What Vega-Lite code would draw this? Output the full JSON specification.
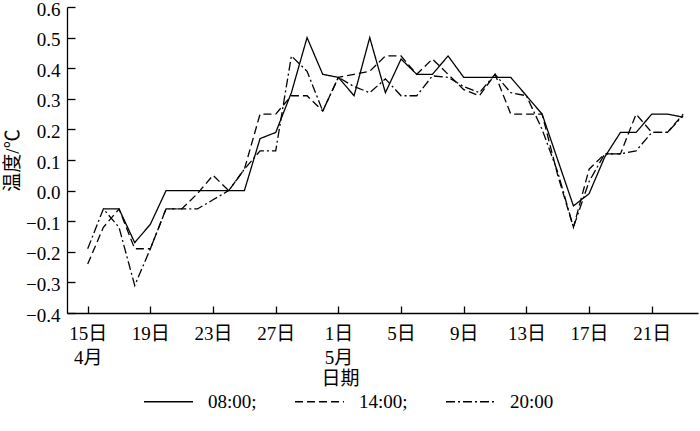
{
  "$schema": "https://vega.github.io/schema/vega-lite/v6.json",
  "width": 631,
  "height": 306,
  "autosize": {"type": "none"},
  "padding": {"left": 67, "top": 7, "right": 2, "bottom": 118},
  "background": "white",
  "config": {
    "view": {"stroke": null},
    "axis": {
      "domainColor": "black", "tickColor": "black", "labelColor": "black", "titleColor": "black",
      "grid": false, "domainWidth": 1.3, "tickWidth": 1.3,
      "labelFont": "Liberation Serif, Noto Sans CJK SC", "titleFont": "Liberation Serif, Noto Sans CJK SC",
      "labelFontSize": 19, "titleFontSize": 19, "titleFontWeight": "normal",
      "labelFlush": false, "labelOverlap": false
    },
    "legend": {"labelFont": "Liberation Serif, Noto Sans CJK SC", "labelColor": "black"}
  },
  "data": {"values": [
    {"date":"2020-04-16","time":"08:00","temp":-0.06},
    {"date":"2020-04-17","time":"08:00","temp":-0.06},
    {"date":"2020-04-18","time":"08:00","temp":-0.17},
    {"date":"2020-04-19","time":"08:00","temp":-0.11},
    {"date":"2020-04-20","time":"08:00","temp":0.0},
    {"date":"2020-04-21","time":"08:00","temp":0.0},
    {"date":"2020-04-22","time":"08:00","temp":0.0},
    {"date":"2020-04-23","time":"08:00","temp":0.0},
    {"date":"2020-04-24","time":"08:00","temp":0.0},
    {"date":"2020-04-25","time":"08:00","temp":0.0},
    {"date":"2020-04-26","time":"08:00","temp":0.17},
    {"date":"2020-04-27","time":"08:00","temp":0.19},
    {"date":"2020-04-28","time":"08:00","temp":0.32},
    {"date":"2020-04-29","time":"08:00","temp":0.50},
    {"date":"2020-04-30","time":"08:00","temp":0.38},
    {"date":"2020-05-01","time":"08:00","temp":0.37},
    {"date":"2020-05-02","time":"08:00","temp":0.31},
    {"date":"2020-05-03","time":"08:00","temp":0.50},
    {"date":"2020-05-04","time":"08:00","temp":0.32},
    {"date":"2020-05-05","time":"08:00","temp":0.43},
    {"date":"2020-05-06","time":"08:00","temp":0.38},
    {"date":"2020-05-07","time":"08:00","temp":0.38},
    {"date":"2020-05-08","time":"08:00","temp":0.44},
    {"date":"2020-05-09","time":"08:00","temp":0.37},
    {"date":"2020-05-10","time":"08:00","temp":0.37},
    {"date":"2020-05-11","time":"08:00","temp":0.37},
    {"date":"2020-05-12","time":"08:00","temp":0.37},
    {"date":"2020-05-13","time":"08:00","temp":0.31},
    {"date":"2020-05-14","time":"08:00","temp":0.25},
    {"date":"2020-05-15","time":"08:00","temp":0.10},
    {"date":"2020-05-16","time":"08:00","temp":-0.05},
    {"date":"2020-05-17","time":"08:00","temp":-0.01},
    {"date":"2020-05-18","time":"08:00","temp":0.11},
    {"date":"2020-05-19","time":"08:00","temp":0.19},
    {"date":"2020-05-20","time":"08:00","temp":0.19},
    {"date":"2020-05-21","time":"08:00","temp":0.25},
    {"date":"2020-05-22","time":"08:00","temp":0.25},
    {"date":"2020-05-23","time":"08:00","temp":0.24},

    {"date":"2020-04-15","time":"14:00","temp":-0.24},
    {"date":"2020-04-16","time":"14:00","temp":-0.12},
    {"date":"2020-04-17","time":"14:00","temp":-0.06},
    {"date":"2020-04-18","time":"14:00","temp":-0.19},
    {"date":"2020-04-19","time":"14:00","temp":-0.19},
    {"date":"2020-04-20","time":"14:00","temp":-0.06},
    {"date":"2020-04-21","time":"14:00","temp":-0.06},
    {"date":"2020-04-22","time":"14:00","temp":-0.01},
    {"date":"2020-04-23","time":"14:00","temp":0.05},
    {"date":"2020-04-24","time":"14:00","temp":0.0},
    {"date":"2020-04-25","time":"14:00","temp":0.07},
    {"date":"2020-04-26","time":"14:00","temp":0.25},
    {"date":"2020-04-27","time":"14:00","temp":0.25},
    {"date":"2020-04-28","time":"14:00","temp":0.31},
    {"date":"2020-04-29","time":"14:00","temp":0.31},
    {"date":"2020-04-30","time":"14:00","temp":0.26},
    {"date":"2020-05-01","time":"14:00","temp":0.37},
    {"date":"2020-05-02","time":"14:00","temp":0.38},
    {"date":"2020-05-03","time":"14:00","temp":0.39},
    {"date":"2020-05-04","time":"14:00","temp":0.44},
    {"date":"2020-05-05","time":"14:00","temp":0.44},
    {"date":"2020-05-06","time":"14:00","temp":0.38},
    {"date":"2020-05-07","time":"14:00","temp":0.43},
    {"date":"2020-05-08","time":"14:00","temp":0.38},
    {"date":"2020-05-09","time":"14:00","temp":0.33},
    {"date":"2020-05-10","time":"14:00","temp":0.31},
    {"date":"2020-05-11","time":"14:00","temp":0.38},
    {"date":"2020-05-12","time":"14:00","temp":0.25},
    {"date":"2020-05-13","time":"14:00","temp":0.25},
    {"date":"2020-05-14","time":"14:00","temp":0.25},
    {"date":"2020-05-15","time":"14:00","temp":0.05},
    {"date":"2020-05-16","time":"14:00","temp":-0.12},
    {"date":"2020-05-17","time":"14:00","temp":0.07},
    {"date":"2020-05-18","time":"14:00","temp":0.12},
    {"date":"2020-05-19","time":"14:00","temp":0.12},
    {"date":"2020-05-20","time":"14:00","temp":0.25},
    {"date":"2020-05-21","time":"14:00","temp":0.19},
    {"date":"2020-05-22","time":"14:00","temp":0.19},
    {"date":"2020-05-23","time":"14:00","temp":0.25},

    {"date":"2020-04-15","time":"20:00","temp":-0.19},
    {"date":"2020-04-16","time":"20:00","temp":-0.06},
    {"date":"2020-04-17","time":"20:00","temp":-0.12},
    {"date":"2020-04-18","time":"20:00","temp":-0.31},
    {"date":"2020-04-19","time":"20:00","temp":-0.19},
    {"date":"2020-04-20","time":"20:00","temp":-0.06},
    {"date":"2020-04-21","time":"20:00","temp":-0.06},
    {"date":"2020-04-22","time":"20:00","temp":-0.06},
    {"date":"2020-04-23","time":"20:00","temp":-0.03},
    {"date":"2020-04-24","time":"20:00","temp":0.0},
    {"date":"2020-04-25","time":"20:00","temp":0.07},
    {"date":"2020-04-26","time":"20:00","temp":0.13},
    {"date":"2020-04-27","time":"20:00","temp":0.13},
    {"date":"2020-04-28","time":"20:00","temp":0.44},
    {"date":"2020-04-29","time":"20:00","temp":0.39},
    {"date":"2020-04-30","time":"20:00","temp":0.26},
    {"date":"2020-05-01","time":"20:00","temp":0.37},
    {"date":"2020-05-02","time":"20:00","temp":0.34},
    {"date":"2020-05-03","time":"20:00","temp":0.32},
    {"date":"2020-05-04","time":"20:00","temp":0.365},
    {"date":"2020-05-05","time":"20:00","temp":0.31},
    {"date":"2020-05-06","time":"20:00","temp":0.31},
    {"date":"2020-05-07","time":"20:00","temp":0.375},
    {"date":"2020-05-08","time":"20:00","temp":0.37},
    {"date":"2020-05-09","time":"20:00","temp":0.34},
    {"date":"2020-05-10","time":"20:00","temp":0.32},
    {"date":"2020-05-11","time":"20:00","temp":0.38},
    {"date":"2020-05-12","time":"20:00","temp":0.32},
    {"date":"2020-05-13","time":"20:00","temp":0.31},
    {"date":"2020-05-14","time":"20:00","temp":0.20},
    {"date":"2020-05-15","time":"20:00","temp":0.06},
    {"date":"2020-05-16","time":"20:00","temp":-0.12},
    {"date":"2020-05-17","time":"20:00","temp":0.03},
    {"date":"2020-05-18","time":"20:00","temp":0.12},
    {"date":"2020-05-19","time":"20:00","temp":0.12},
    {"date":"2020-05-20","time":"20:00","temp":0.13},
    {"date":"2020-05-21","time":"20:00","temp":0.19},
    {"date":"2020-05-22","time":"20:00","temp":0.19},
    {"date":"2020-05-23","time":"20:00","temp":0.245}
  ]},
  "mark": {"type": "line", "color": "black", "strokeWidth": 1.3},
  "encoding": {
    "x": {
      "field": "date", "type": "temporal",
      "scale": {"type": "utc", "domain": [
        {"year": 2020, "month": 4, "date": 13, "hours": 16, "minutes": 18, "utc": true},
        {"year": 2020, "month": 5, "date": 23, "hours": 22, "minutes": 48, "utc": true}
      ]},
      "axis": {
        "values": [
          {"year": 2020, "month": 4, "date": 15, "utc": true},
          {"year": 2020, "month": 4, "date": 19, "utc": true},
          {"year": 2020, "month": 4, "date": 23, "utc": true},
          {"year": 2020, "month": 4, "date": 27, "utc": true},
          {"year": 2020, "month": 5, "date": 1, "utc": true},
          {"year": 2020, "month": 5, "date": 5, "utc": true},
          {"year": 2020, "month": 5, "date": 9, "utc": true},
          {"year": 2020, "month": 5, "date": 13, "utc": true},
          {"year": 2020, "month": 5, "date": 17, "utc": true},
          {"year": 2020, "month": 5, "date": 21, "utc": true}
        ],
        "labelExpr": "(utcdate(datum.value) == 15 && utcmonth(datum.value) == 3) ? ['15日', '4月'] : (utcdate(datum.value) == 1 ? ['1日', '5月'] : utcdate(datum.value) + '日')",
        "labelLineHeight": 24,
        "tickSize": -7,
        "labelPadding": 18,
        "labelBaseline": "top",
        "title": "日期",
        "titleX": 273,
        "titleY": 65,
        "titleBaseline": "middle",
        "titleAlign": "center"
      }
    },
    "y": {
      "field": "temp", "type": "quantitative",
      "scale": {"domain": [-0.4, 0.6], "nice": false, "zero": false},
      "axis": {
        "values": [-0.4, -0.3, -0.2, -0.1, 0, 0.1, 0.2, 0.3, 0.4, 0.5, 0.6],
        "format": ".1f",
        "tickSize": -8,
        "labelPadding": 15,
        "labelOffset": 2,
        "title": "温度/℃",
        "titleX": -55,
        "titleY": 153,
        "titleAngle": -90,
        "titleBaseline": "middle",
        "titleAlign": "center"
      }
    },
    "strokeDash": {
      "field": "time", "type": "nominal",
      "scale": {"domain": ["08:00", "14:00", "20:00"], "range": [[1, 0], [8, 4], [9, 3, 2, 3]]},
      "legend": {
        "orient": "none", "direction": "horizontal", "legendX": 76, "legendY": 369,
        "title": null, "padding": 0,
        "symbolType": "stroke", "symbolSize": 2400, "symbolStrokeWidth": 1.3, "symbolStrokeColor": "black",
        "labelFontSize": 19, "labelOffset": 14, "columnPadding": 35,
        "labelExpr": "datum.label == '20:00' ? datum.label : datum.label + ';'"
      }
    }
  }
}
